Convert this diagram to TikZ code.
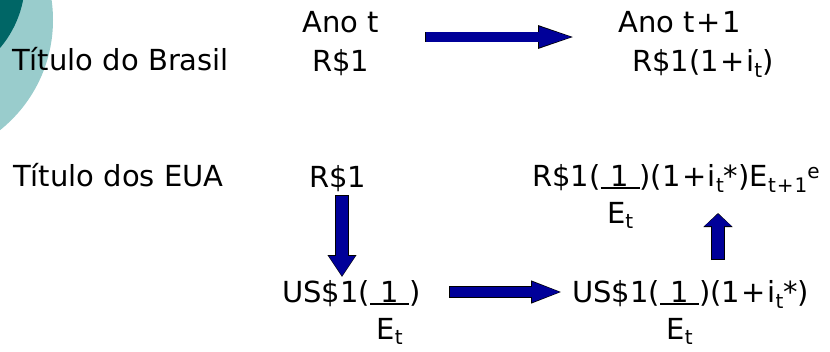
\documentclass[tikz,border=0pt]{standalone}
\usepackage{fontspec}
\setmainfont{DejaVu Sans}
\usetikzlibrary{arrows.meta}
\definecolor{navyfill}{RGB}{0,0,153}
\definecolor{lightteal}{RGB}{153,204,204}
\definecolor{darkteal}{RGB}{0,102,102}
\newcommand\dn[1]{\raisebox{-6.5pt}{\fontsize{20}{20}\selectfont #1}}
\newcommand\dnE[1]{\raisebox{-5.5pt}{\fontsize{20}{20}\selectfont #1}}
\newcommand\upx[1]{\raisebox{8pt}{\fontsize{20}{20}\selectfont #1}}
\newcommand\pl{\kern1.5pt+\kern1.5pt}
\newcommand\fracE{\setbox0\hbox{\hspace{10.3pt}1\hspace{10.3pt}}\rlap{\rule[-3.2pt]{\wd0}{2pt}}\rlap{\hbox to\wd0{\hss\raisebox{-37pt}{E\dnE{t}}\hss}}\box0}
\tikzset{
  txt/.style={inner sep=0pt, anchor=base west, font=\fontsize{29}{35}\selectfont},
}
\begin{document}
\begin{tikzpicture}[x=1pt,y=-1pt]
\useasboundingbox (0,0) rectangle (830,351);
\begin{scope}
\clip (0,0) rectangle (830,351);
\fill[lightteal] (-88,20) circle (141);
\fill[darkteal] (-80,-20) circle (105);
\end{scope}
% labels
\node[txt] (anot) at (302,32) {Ano t};
\node[txt] (anot1) at (618,32) {Ano t\pl 1};
\node[txt] (brl) at (12,70) {Título do Brasil};
\node[txt] (rsa) at (312,71) {R\$1};
\node[txt] (rsb) at (632,71) {R\$1(1\pl i\dn{t})};
\node[txt] (eua) at (13,186) {Título dos EUA};
\node[txt] (rsc) at (309,187) {R\$1};
\node[txt] (rsd) at (532,186) {R\$1(\fracE)(1\pl i\dn{t}*)E\dn{t\kern1pt+\kern1pt1}\upx{e}};
\node[txt] (usa) at (282,302) {US\$1(\fracE)};
\node[txt] (usb) at (572,302) {US\$1(\fracE)(1\pl i\dn{t}*)};
% arrow coordinates
\coordinate (a1s) at (425,37);
\coordinate (a1e) at (578,37);
\coordinate (a2s) at (449,292);
\coordinate (a2e) at (563,292);
\coordinate (d1s) at (342,195);
\coordinate (d1e) at (342,277);
\coordinate (u1s) at (718,260);
\coordinate (u1e) at (718,213);
% top arrow
\draw[black, line width=10.6pt, -{Triangle[length=40pt,width=20pt]}] (a1s) -- (a1e);
\draw[navyfill, line width=9.2pt, shorten <=0.7pt, shorten >=1pt, -{Triangle[length=38pt,width=17.5pt]}] (a1s) -- (a1e);
% bottom arrow
\draw[black, line width=11.4pt, -{Triangle[length=32pt,width=20.5pt]}] (a2s) -- (a2e);
\draw[navyfill, line width=10pt, shorten <=0.7pt, shorten >=1pt, -{Triangle[length=30pt,width=18pt]}] (a2s) -- (a2e);
% down arrow
\draw[black, line width=13.4pt, -{Triangle[length=22pt,width=27.5pt]}] (d1s) -- (d1e);
\draw[navyfill, line width=12pt, shorten <=0.7pt, shorten >=1pt, -{Triangle[length=20pt,width=25pt]}] (d1s) -- (d1e);
% up arrow
\draw[black, line width=13.4pt, -{Triangle[length=14pt,width=28.5pt]}] (u1s) -- (u1e);
\draw[navyfill, line width=12pt, shorten <=0.7pt, shorten >=1pt, -{Triangle[length=12pt,width=26pt]}] (u1s) -- (u1e);
\end{tikzpicture}
\end{document}
